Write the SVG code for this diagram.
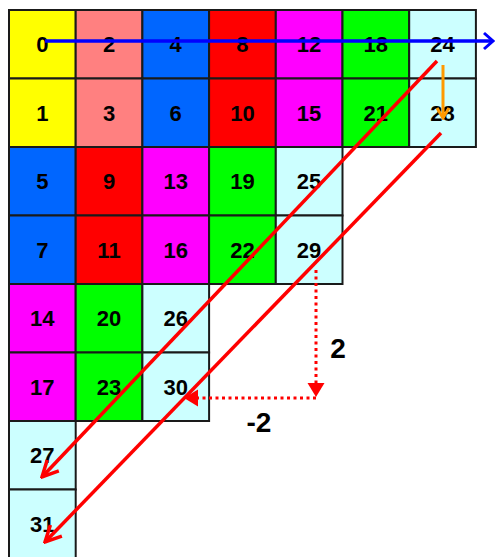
<svg xmlns="http://www.w3.org/2000/svg" width="495" height="557" viewBox="0 0 495 557">
<style>
.c rect{stroke:#1a1a1a;stroke-width:2}
.c text{font-family:"Liberation Sans",Arial,sans-serif;font-weight:bold;font-size:22px;text-anchor:middle;fill:#000}
.y{fill:#FFFF00}.s{fill:#FF8080}.b{fill:#0066FF}.r{fill:#FF0000}.m{fill:#FF00FF}.g{fill:#00FF00}.k{fill:#CCFFFF}
.lbl{font-family:"Liberation Sans",Arial,sans-serif;font-weight:bold;font-size:28px;text-anchor:middle;fill:#000}
</style>
<defs>
<marker id="ab" markerUnits="userSpaceOnUse" viewBox="-12 -10 14 20" markerWidth="14" markerHeight="20" refX="0" refY="0" orient="auto">
<path d="M-9,-8 L0,0 L-9,8" fill="none" stroke="#0000FF" stroke-width="3"/>
</marker>
<marker id="ar" markerUnits="userSpaceOnUse" viewBox="-20 -12 22 24" markerWidth="22" markerHeight="24" refX="0" refY="0" orient="auto">
<path d="M-16,-8 L0,0 L-16,8" fill="none" stroke="#FF0000" stroke-width="3.5"/>
</marker>
<marker id="ao" markerUnits="userSpaceOnUse" viewBox="-14 -10 16 20" markerWidth="16" markerHeight="20" refX="0" refY="0" orient="auto">
<path d="M-10,-6 L0,0 L-10,6" fill="none" stroke="#FF9900" stroke-width="3"/>
</marker>
<marker id="at" markerUnits="userSpaceOnUse" viewBox="0 -9 16 18" markerWidth="16" markerHeight="18" refX="0" refY="0" orient="auto">
<path d="M0,-8.5 L14,0 L0,8.5 Z" fill="#FF0000"/>
</marker>
</defs>
<g class="c">
<g id="n0"><rect class="y" x="9" y="10" width="66.7" height="68.5"/><text x="42.3" y="52">0</text></g>
<g id="n2"><rect class="s" x="75.7" y="10" width="66.7" height="68.5"/><text x="109" y="52">2</text></g>
<g id="n4"><rect class="b" x="142.4" y="10" width="66.7" height="68.5"/><text x="175.7" y="52">4</text></g>
<g id="n8"><rect class="r" x="209.1" y="10" width="66.7" height="68.5"/><text x="242.4" y="52">8</text></g>
<g id="n12"><rect class="m" x="275.8" y="10" width="66.7" height="68.5"/><text x="309.1" y="52">12</text></g>
<g id="n18"><rect class="g" x="342.5" y="10" width="66.7" height="68.5"/><text x="375.8" y="52">18</text></g>
<g id="n24"><rect class="k" x="409.2" y="10" width="66.7" height="68.5"/><text x="442.5" y="52">24</text></g>
<g id="n1"><rect class="y" x="9" y="78.5" width="66.7" height="68.5"/><text x="42.3" y="120.5">1</text></g>
<g id="n3"><rect class="s" x="75.7" y="78.5" width="66.7" height="68.5"/><text x="109" y="120.5">3</text></g>
<g id="n6"><rect class="b" x="142.4" y="78.5" width="66.7" height="68.5"/><text x="175.7" y="120.5">6</text></g>
<g id="n10"><rect class="r" x="209.1" y="78.5" width="66.7" height="68.5"/><text x="242.4" y="120.5">10</text></g>
<g id="n15"><rect class="m" x="275.8" y="78.5" width="66.7" height="68.5"/><text x="309.1" y="120.5">15</text></g>
<g id="n21"><rect class="g" x="342.5" y="78.5" width="66.7" height="68.5"/><text x="375.8" y="120.5">21</text></g>
<g id="n28"><rect class="k" x="409.2" y="78.5" width="66.7" height="68.5"/><text x="442.5" y="120.5">28</text></g>
<g id="n5"><rect class="b" x="9" y="147" width="66.7" height="68.5"/><text x="42.3" y="189">5</text></g>
<g id="n9"><rect class="r" x="75.7" y="147" width="66.7" height="68.5"/><text x="109" y="189">9</text></g>
<g id="n13"><rect class="m" x="142.4" y="147" width="66.7" height="68.5"/><text x="175.7" y="189">13</text></g>
<g id="n19"><rect class="g" x="209.1" y="147" width="66.7" height="68.5"/><text x="242.4" y="189">19</text></g>
<g id="n25"><rect class="k" x="275.8" y="147" width="66.7" height="68.5"/><text x="309.1" y="189">25</text></g>
<g id="n7"><rect class="b" x="9" y="215.5" width="66.7" height="68.5"/><text x="42.3" y="257.5">7</text></g>
<g id="n11"><rect class="r" x="75.7" y="215.5" width="66.7" height="68.5"/><text x="109" y="257.5">11</text></g>
<g id="n16"><rect class="m" x="142.4" y="215.5" width="66.7" height="68.5"/><text x="175.7" y="257.5">16</text></g>
<g id="n22"><rect class="g" x="209.1" y="215.5" width="66.7" height="68.5"/><text x="242.4" y="257.5">22</text></g>
<g id="n29"><rect class="k" x="275.8" y="215.5" width="66.7" height="68.5"/><text x="309.1" y="257.5">29</text></g>
<g id="n14"><rect class="m" x="9" y="284" width="66.7" height="68.5"/><text x="42.3" y="326">14</text></g>
<g id="n20"><rect class="g" x="75.7" y="284" width="66.7" height="68.5"/><text x="109" y="326">20</text></g>
<g id="n26"><rect class="k" x="142.4" y="284" width="66.7" height="68.5"/><text x="175.7" y="326">26</text></g>
<g id="n17"><rect class="m" x="9" y="352.5" width="66.7" height="68.5"/><text x="42.3" y="394.5">17</text></g>
<g id="n23"><rect class="g" x="75.7" y="352.5" width="66.7" height="68.5"/><text x="109" y="394.5">23</text></g>
<g id="n30"><rect class="k" x="142.4" y="352.5" width="66.7" height="68.5"/><text x="175.7" y="394.5">30</text></g>
<g id="n27"><rect class="k" x="9" y="421" width="66.7" height="68.5"/><text x="42.3" y="463">27</text></g>
<g id="n31"><rect class="k" x="9" y="489.5" width="66.7" height="68.5"/><text x="42.3" y="531.5">31</text></g>
</g>
<g id="connectors" fill="none">
<line x1="45" y1="41" x2="493" y2="41" stroke="#0000FF" stroke-width="3.5" marker-end="url(#ab)"/>
<line x1="443" y1="65" x2="443" y2="118" stroke="#FF9900" stroke-width="3" marker-end="url(#ao)"/>
<line x1="437" y1="61" x2="42" y2="477" stroke="#FF0000" stroke-width="3.5" marker-end="url(#ar)"/>
<line x1="441" y1="133" x2="45" y2="542" stroke="#FF0000" stroke-width="3.5" marker-end="url(#ar)"/>
<line x1="316" y1="270" x2="316" y2="383" stroke="#FF0000" stroke-width="3" stroke-dasharray="3,3.5" marker-end="url(#at)"/>
<line x1="316" y1="398" x2="198" y2="398" stroke="#FF0000" stroke-width="3" stroke-dasharray="3,3.5" marker-end="url(#at)"/>
</g>
<text class="lbl" x="338" y="358">2</text>
<text class="lbl" x="259" y="432">-2</text>
</svg>
